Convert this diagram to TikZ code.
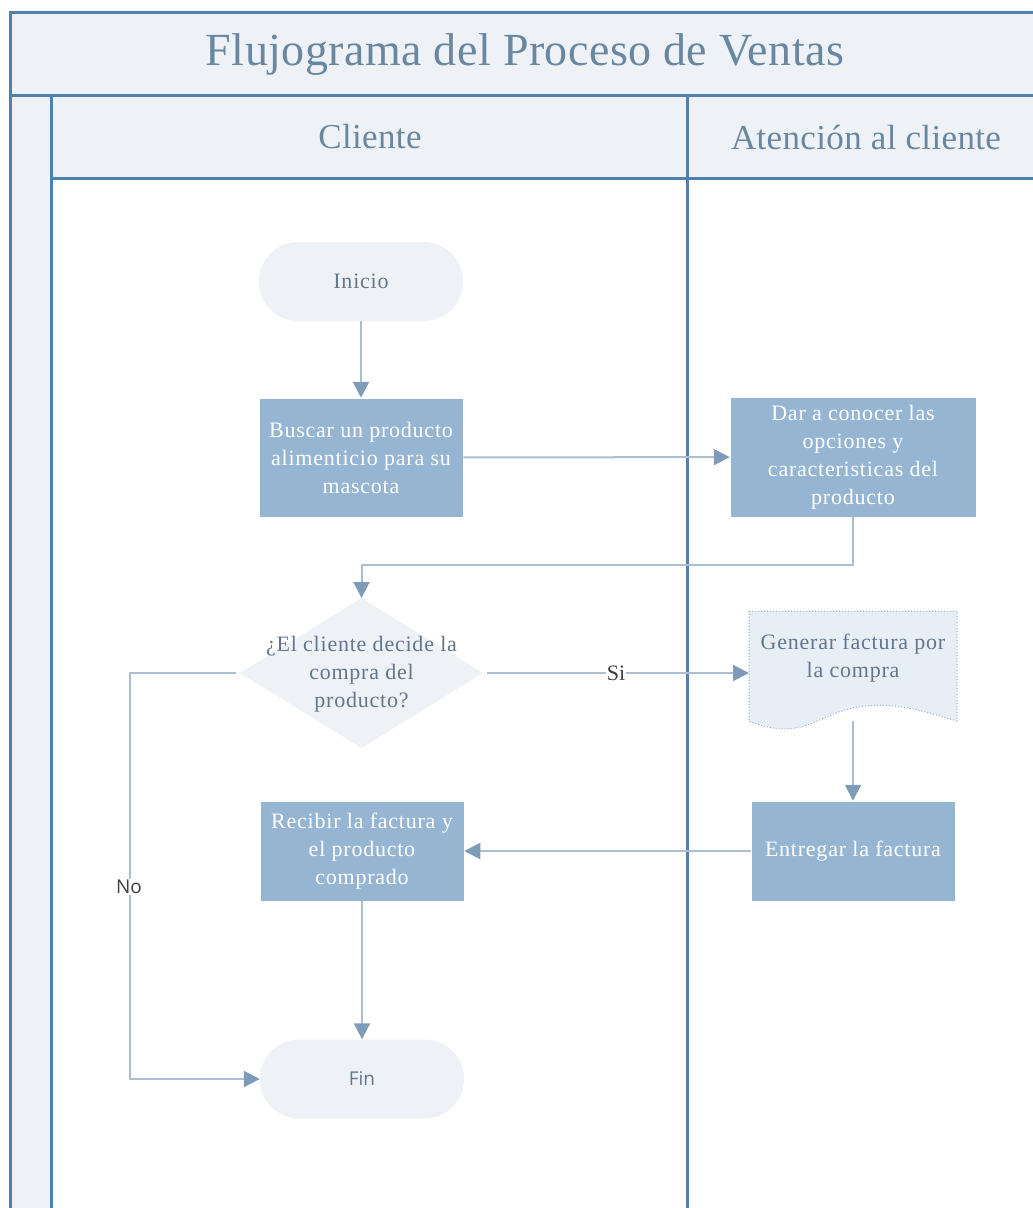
\documentclass[tikz,border=0pt]{standalone}
\usepackage{fontspec}
\setmainfont{Liberation Serif}
\newfontfamily\nodef[LetterSpace=3.5]{Liberation Serif}
\newfontfamily\titlef[LetterSpace=1]{Liberation Serif}
\newfontfamily\sansf{Open Sans}
\usetikzlibrary{arrows.meta,shapes.geometric}
\definecolor{framec}{RGB}{79,129,176}
\definecolor{hdrfill}{RGB}{238,242,247}
\definecolor{titlec}{RGB}{106,135,160}
\definecolor{boxfill}{RGB}{149,181,211}
\definecolor{termfill}{RGB}{238,242,247}
\definecolor{termtext}{RGB}{100,118,140}
\definecolor{connc}{RGB}{172,190,209}
\definecolor{arrowc}{RGB}{126,156,186}
\definecolor{docfill}{RGB}{232,238,245}
\definecolor{docline}{RGB}{146,175,203}
\tikzset{
  frameline/.style={draw=framec,line width=3pt},
  titletext/.style={text=titlec,font=\titlef\fontsize{46}{52}\selectfont,inner sep=0pt},
  lanetext/.style={text=titlec,font=\titlef\fontsize{35}{40}\selectfont,inner sep=0pt},
  procbox/.style={rectangle,fill=boxfill,draw=white,line width=0.5pt,text=white,align=center,inner sep=0pt,font=\nodef\fontsize{22}{28}\selectfont},
  termbox/.style={rectangle,rounded corners=39pt,fill=termfill,minimum width=204pt,minimum height=79pt,inner sep=0pt,text=termtext,font=\nodef\fontsize{22}{28}\selectfont},
  dectext/.style={text=termtext,align=center,inner sep=0pt,font=\nodef\fontsize{22}{28}\selectfont},
  conn/.style={draw=connc,line width=2pt,-{Triangle[length=16pt,width=16pt,color=arrowc]}},
  edgelabel/.style={fill=white,inner sep=1pt,text=black!75}
}
\begin{document}
\begin{tikzpicture}[x=1pt,y=-1pt]
\useasboundingbox (0,0) rectangle (1033,1208);
\clip (0,0) rectangle (1033,1208);
% swimlane frame
\fill[hdrfill] (10,12) rectangle (1045,178);
\fill[hdrfill] (10,178) rectangle (51,1220);
\draw[frameline] (1045,12) -- (10,12) -- (10,1220);
\draw[frameline] (10,95) -- (1045,95);
\draw[frameline] (51,95) -- (51,1220);
\draw[frameline] (51,178) -- (1045,178);
\draw[frameline] (687,95) -- (687,1220);
\node[titletext] (title) at (525,55) {Flujograma del Proceso de Ventas};
\node[lanetext] (lanecli) at (370,137) {Cliente};
\node[lanetext] (laneate) at (866,137) {Atención al cliente};
% nodes
\node[termbox] (ini) at (361,281.5) {Inicio};
\node[procbox,minimum width=204pt,minimum height=119pt] (bus) at (361,457.5) {Buscar un producto\\alimenticio para su\\mascota};
\node[procbox,minimum width=246pt,minimum height=120pt] (dar) at (853,457) {Dar a conocer las\\opciones y\\caracteristicas del\\producto};
\node[diamond,fill=termfill,minimum width=243pt,minimum height=150pt,inner sep=0pt,outer sep=0pt] (dec) at (361.5,673) {};
\node[dectext] (dectxt) at (361.5,674) {¿El cliente decide la\\compra del\\producto?};
\node[rectangle,minimum width=208pt,minimum height=110pt,inner sep=0pt,outer sep=0pt] (gen) at (853,666) {};
\path[fill=docfill,draw=docline,line width=1pt,dotted]
  (gen.north west) -- (gen.north east) -- (gen.south east)
  .. controls (925,712) and (895,700) .. (853,708)
  .. controls (815,716) and (800,742) .. (gen.south west) -- cycle;
\node[dectext] (gentxt) at (853,658) {Generar factura por\\la compra};
\node[procbox,minimum width=204pt,minimum height=100pt] (rec) at (362,851) {Recibir la factura y\\el producto\\comprado};
\node[procbox,minimum width=204pt,minimum height=100pt] (ent) at (853,851) {Entregar la factura};
\node[termbox,font=\sansf\fontsize{19}{24}\selectfont] (fin) at (362,1079) {Fin};
% connectors
\coordinate (j1) at (361.5,565);
\coordinate (k1) at (130,1079);
\draw[conn] (ini) -- (bus);
\draw[conn] (bus) -- (dar);
\draw[conn] (dar.south) |- (j1) -- (dec.north);
\draw[conn,shorten <=4pt] (dec.east) -- node[edgelabel,pos=0.5,font=\fontsize{22}{24}\selectfont] {Si} (gen.west |- dec.east);
\draw[conn,shorten <=4pt] (dec.west) -| (k1) -- (fin.west);
\node[edgelabel,font=\sansf\fontsize{19}{24}\selectfont] (nolbl) at (129,887) {No};
\draw[conn] (gen.south) -- (ent.north);
\draw[conn] (ent) -- (rec);
\draw[conn] (rec) -- (fin);
\end{tikzpicture}
\end{document}
